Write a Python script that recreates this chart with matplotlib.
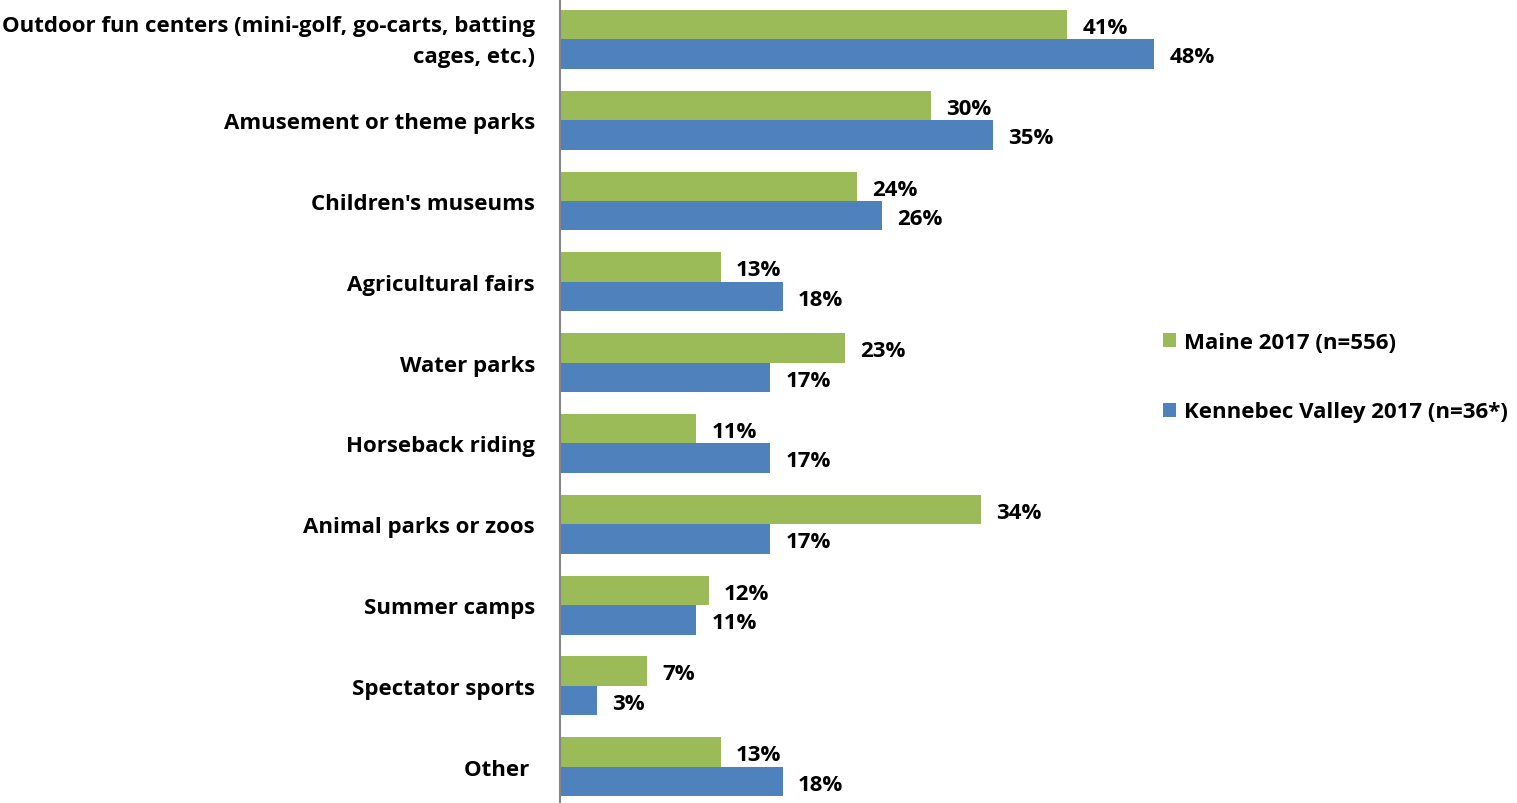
import numpy as np
import matplotlib.pyplot as plt
from matplotlib.transforms import ScaledTranslation

plt.rcParams['font.family'] = ['Open Sans', 'DejaVu Sans']
plt.rcParams['font.weight'] = 'bold'

categories = ['Outdoor fun centers (mini-golf, go-carts, batting\ncages, etc.)',
              'Amusement or theme parks', "Children's museums", 'Agricultural fairs',
              'Water parks', 'Horseback riding', 'Animal parks or zoos',
              'Summer camps', 'Spectator sports', 'Other ']
maine = [41, 30, 24, 13, 23, 11, 34, 12, 7, 13]
kennebec = [48, 35, 26, 18, 17, 17, 17, 11, 3, 18]
series_names = ['Maine 2017 (n=556)', 'Kennebec Valley 2017 (n=36*)']

green = '#9BBB59'
blue = '#4F81BD'
fs = 16

fig = plt.figure(figsize=(15.17, 8.04), dpi=100)
ax = fig.add_axes([560/1517, -0.005, 600/1517, 1.005])

y = np.arange(len(categories))
h = 0.365
b1 = ax.barh(y - h/2, maine, height=h, color=green, label=series_names[0])
b2 = ax.barh(y + h/2, kennebec, height=h, color=blue, label=series_names[1])

for bars, vals in ((b1, maine), (b2, kennebec)):
    for bar, v in zip(bars, vals):
        ax.annotate(f'{v}%', (v, bar.get_y() + bar.get_height()/2),
                    xytext=(11, -2), textcoords='offset points',
                    va='center', ha='left', fontsize=fs, fontweight='bold')

ax.set_xlim(0, 600/12.375)
ax.set_ylim(len(categories) - 0.5, -0.5)
ax.set_yticks(y)
ax.set_yticklabels(categories, fontsize=fs, fontweight='bold', ha='right',
                   linespacing=1.6)
ax.tick_params(axis='y', length=0, pad=18)
ax.set_xticks([])
# the two-line label sits a little higher
lbl = ax.get_yticklabels()[0]
lbl.set_transform(lbl.get_transform() + ScaledTranslation(0, 0.06, fig.dpi_scale_trans))
for s in ['top', 'right', 'bottom']:
    ax.spines[s].set_visible(False)
ax.spines['left'].set_color('#868686')
ax.spines['left'].set_linewidth(1.5)

fig.legend(handles=[b1, b2], loc='center left', bbox_to_anchor=(1143/1517, 1 - 378/804),
           frameon=False, handlelength=0.6, handleheight=0.6,
           handletextpad=0.35, labelspacing=2.2, prop={'weight': 'bold', 'size': fs})

fig.savefig('out.png', dpi=100)
